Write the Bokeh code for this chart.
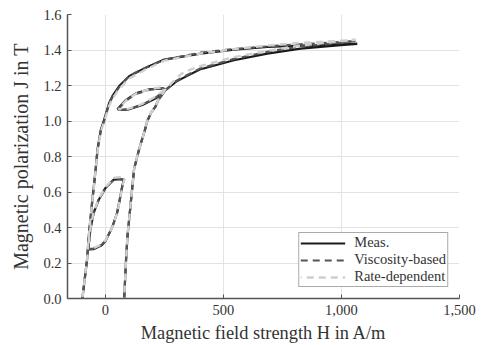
from bokeh.plotting import figure
from bokeh.models import Range1d, FixedTicker, NumeralTickFormatter, ColumnDataSource
from bokeh.embed import file_html
from bokeh.resources import INLINE

# ---------------- data ----------------
# Measurement: major loop (ascending then descending branch)
meas_major_H = [80, 88, 94, 108, 122, 143, 168, 178, 195, 212, 225, 256, 300, 341, 400, 545, 686, 827, 997, 1067,
                997, 827, 686, 545, 404, 250, 171, 101, 58, 30, 16, -5, -19, -33, -41, -56, -70, -77, -97]
meas_major_J = [0.0, 0.22, 0.35, 0.54, 0.73, 0.84, 0.95, 1.0, 1.05, 1.08, 1.12, 1.175, 1.222, 1.25, 1.29, 1.342, 1.38, 1.408, 1.427, 1.435,
                1.432, 1.425, 1.417, 1.402, 1.38, 1.346, 1.30, 1.252, 1.195, 1.14, 1.10, 1.006, 0.95, 0.84, 0.726, 0.54, 0.352, 0.22, 0.0]
# Measurement: lower minor loop
meas_low_H = [-70, -50, -35, -15, 1, 29, 50, 64, 72, 78, 60, 36, 1, -27, -49, -63, -70, -70]
meas_low_J = [0.277, 0.278, 0.287, 0.30, 0.324, 0.40, 0.483, 0.576, 0.635, 0.668, 0.672, 0.67, 0.623, 0.558, 0.483, 0.39, 0.30, 0.277]
# Measurement: upper minor loop
meas_high_H = [51, 87, 129, 185, 242, 256, 249, 214, 157, 101, 70, 51]
meas_high_J = [1.066, 1.118, 1.156, 1.178, 1.184, 1.178, 1.165, 1.128, 1.09, 1.066, 1.062, 1.066]

# Viscosity-based model
visc_major_H = [80, 88, 94, 108, 122, 143, 168, 178, 195, 212, 225, 256, 300, 341, 400, 545, 686, 827, 997, 1060,
                997, 827, 686, 545, 404, 250, 171, 101, 58, 30, 16, -5, -19, -33, -41, -56, -70, -77, -97]
visc_major_J = [0.0, 0.22, 0.35, 0.54, 0.73, 0.84, 0.95, 1.0, 1.05, 1.08, 1.12, 1.175, 1.225, 1.255, 1.295, 1.35, 1.39, 1.42, 1.44, 1.45,
                1.445, 1.432, 1.42, 1.405, 1.385, 1.345, 1.30, 1.255, 1.19, 1.135, 1.095, 1.0, 0.945, 0.835, 0.72, 0.535, 0.35, 0.22, 0.0]
visc_low_H = [-72, -52, -35, -15, 2, 30, 51, 65, 73, 80, 62, 37, 2, -27, -49, -63, -70, -72]
visc_low_J = [0.28, 0.28, 0.29, 0.303, 0.327, 0.403, 0.486, 0.58, 0.638, 0.67, 0.674, 0.672, 0.625, 0.56, 0.485, 0.392, 0.305, 0.28]
visc_high_H = [53, 88, 130, 186, 240, 252, 246, 212, 156, 100, 70, 53]
visc_high_J = [1.064, 1.115, 1.152, 1.176, 1.184, 1.18, 1.165, 1.13, 1.092, 1.068, 1.063, 1.064]

# Rate-dependent model
rate_major_H = [80, 88, 94, 108, 122, 143, 168, 178, 195, 212, 225, 256, 300, 334, 404, 545, 686, 827, 997, 1060,
                997, 827, 686, 545, 404, 250, 171, 101, 58, 30, 16, -5, -19, -33, -41, -56, -70, -77, -97]
rate_major_J = [0.0, 0.22, 0.35, 0.54, 0.73, 0.84, 0.95, 1.0, 1.05, 1.08, 1.12, 1.18, 1.24, 1.277, 1.31, 1.36, 1.395, 1.425, 1.45, 1.458,
                1.452, 1.44, 1.425, 1.405, 1.38, 1.34, 1.29, 1.24, 1.18, 1.125, 1.085, 0.995, 0.94, 0.83, 0.72, 0.535, 0.35, 0.22, 0.0]
rate_low_H = [-73, -52, -35, -15, 2, 31, 52, 66, 75, 83, 64, 38, 3, -27, -49, -63, -71, -73]
rate_low_J = [0.285, 0.283, 0.292, 0.306, 0.33, 0.405, 0.49, 0.585, 0.645, 0.68, 0.684, 0.68, 0.63, 0.563, 0.488, 0.395, 0.31, 0.285]
rate_high_H = [55, 90, 132, 188, 240, 250, 244, 210, 155, 100, 72, 55]
rate_high_J = [1.068, 1.118, 1.156, 1.18, 1.19, 1.185, 1.17, 1.135, 1.095, 1.07, 1.066, 1.068]

x_ticks = [0, 500, 1000, 1500]
y_ticks = [0.0, 0.2, 0.4, 0.6, 0.8, 1.0, 1.2, 1.4, 1.6]

series_names = ["Meas.", "Viscosity-based", "Rate-dependent"]
x_title = "Magnetic field strength H in A/m"
y_title = "Magnetic polarization J in T"

# ---------------- figure ----------------
FONT = "Liberation Serif"
TXT = "#333333"
p = figure(width=482, height=345, output_backend="svg", toolbar_location=None,
           x_range=Range1d(-160, 1500), y_range=Range1d(0.0, 1.6),
           min_border_left=67, min_border_right=23, min_border_top=14, min_border_bottom=45)
p.outline_line_color = None
p.background_fill_color = "white"

src_meas = ColumnDataSource(dict(xs=[meas_major_H, meas_low_H, meas_high_H], ys=[meas_major_J, meas_low_J, meas_high_J]))
src_visc = ColumnDataSource(dict(xs=[visc_major_H, visc_low_H, visc_high_H], ys=[visc_major_J, visc_low_J, visc_high_J]))
src_rate = ColumnDataSource(dict(xs=[rate_major_H, rate_low_H, rate_high_H], ys=[rate_major_J, rate_low_J, rate_high_J]))

p.multi_line("xs", "ys", source=src_meas, line_color="#1a1a1a", line_width=2.2, legend_label=series_names[0])
p.multi_line("xs", "ys", source=src_visc, line_color="#555555", line_width=2.2, line_dash="7 5",
             legend_label=series_names[1])
p.multi_line("xs", "ys", source=src_rate, line_color="#cfcfcf", line_width=2.4, line_dash="7 5",
             line_dash_offset=6, legend_label=series_names[2])

for ax in (p.xaxis[0], p.yaxis[0]):
    ax.axis_line_color = "#555555"
    ax.axis_line_width = 1.5
    ax.major_tick_line_color = "#555555"
    ax.major_tick_in = 4
    ax.major_tick_out = 0
    ax.minor_tick_line_color = None
    ax.major_label_text_font = FONT
    ax.major_label_text_font_size = "14.5px"
    ax.major_label_text_color = TXT
    ax.major_label_text_line_height = 1.0
    ax.axis_label_text_font = FONT
    ax.axis_label_text_font_style = "normal"
    ax.axis_label_text_color = TXT
    ax.axis_label_text_line_height = 1.0

p.xaxis[0].ticker = FixedTicker(ticks=x_ticks)
p.yaxis[0].ticker = FixedTicker(ticks=y_ticks)
p.xaxis[0].formatter = NumeralTickFormatter(format="0,0")
p.yaxis[0].formatter = NumeralTickFormatter(format="0.0")
p.xaxis[0].axis_label = x_title
p.yaxis[0].axis_label = y_title
p.xaxis[0].axis_label_text_font_size = "18.4px"
p.yaxis[0].axis_label_text_font_size = "20px"
p.xaxis[0].major_label_standoff = 6
p.yaxis[0].major_label_standoff = 6
p.xaxis[0].axis_label_standoff = 5
p.yaxis[0].axis_label_standoff = 8

p.grid.grid_line_color = "#e3e3e3"
p.grid.grid_line_width = 1

lg = p.legend[0]
lg.location = "bottom_right"
lg.margin = 11
lg.padding = 1
lg.spacing = 0
lg.label_height = 16
lg.glyph_height = 16
lg.glyph_width = 45
lg.label_standoff = 9
lg.label_text_font = FONT
lg.label_text_font_size = "14.5px"
lg.label_text_line_height = 1.0
lg.label_text_color = TXT
lg.border_line_color = "#555555"
lg.border_line_width = 1.5
lg.background_fill_alpha = 1.0

open("out.html", "w").write(file_html(p, INLINE))
